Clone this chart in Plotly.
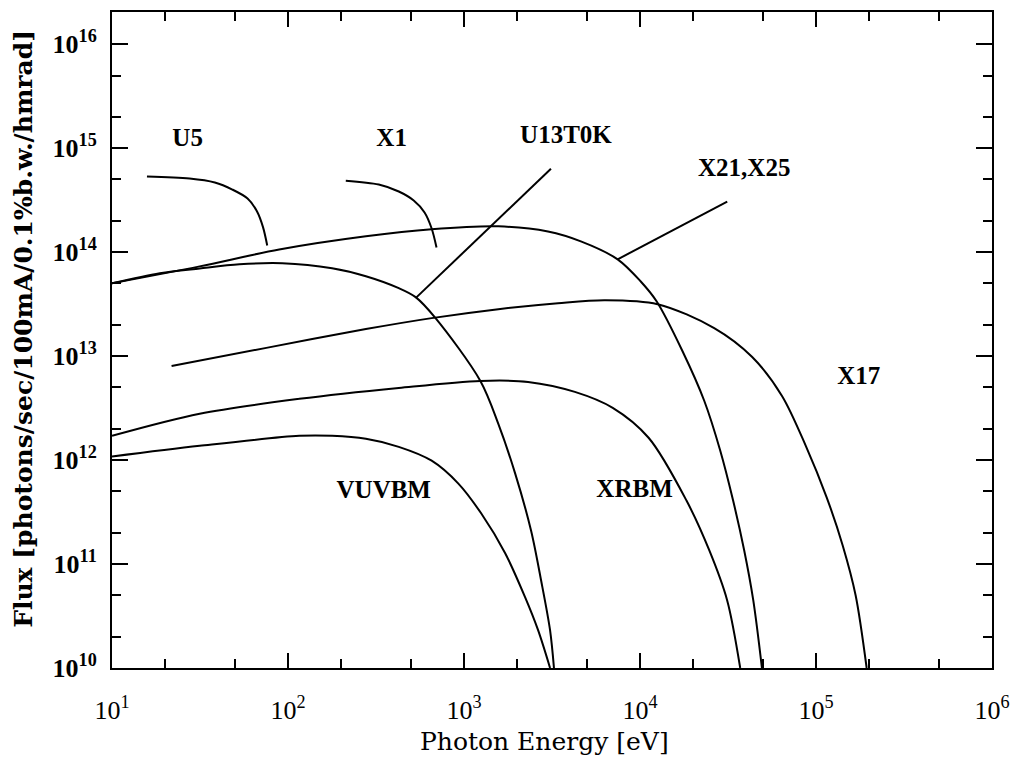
import plotly.graph_objects as go

# ---------------- data (photon energy in eV, flux in photons/sec/100mA/0.1%bw/hmrad) ----
u5_e = [15.8, 27.6, 38.4, 48.3, 58.9, 66.7, 72.1, 76.2]
u5_f = [5.33e14, 5.1e14, 4.67e14, 4.0e14, 3.28e14, 2.46e14, 1.74e14, 1.16e14]

x1_e = [213, 328, 426, 518, 597, 655, 698]
x1_f = [4.87e14, 4.47e14, 3.83e14, 3.14e14, 2.41e14, 1.69e14, 1.11e14]

x21_e = [10, 31.5, 89.1, 277, 655, 1567, 3000, 4613, 7464, 1.007e4, 1.242e4, 1.742e4,
         2.317e4, 2.858e4, 3.381e4, 3.91e4, 4.40e4, 4.93e4]
x21_f = [5.02e13, 7.3e13, 1.06e14, 1.42e14, 1.66e14, 1.77e14, 1.58e14, 1.27e14, 8.53e13,
         5.25e13, 3.37e13, 1.12e13, 3.72e12, 1.23e12, 4.08e11, 1.35e11, 4.49e10, 1.0e10]

u13_e = [10, 18.7, 31.5, 53.0, 92.7, 178, 277, 426, 531, 689, 1239, 1567, 1954,
         2404, 2741, 3083, 3245]
u13_f = [5.02e13, 6.27e13, 6.97e13, 7.64e13, 7.82e13, 7.0e13, 5.86e13, 4.5e13, 3.69e13,
         2.32e13, 5.77e12, 2.23e12, 7.41e11, 2.10e11, 6.98e10, 2.31e10, 1.0e10]

x17_e = [21.8, 75.3, 277, 655, 1567, 3420, 6310, 1.259e4, 2.64e4, 4.34e4, 6.41e4, 8.75e4,
         1.151e5, 1.418e5, 1.679e5, 1.94e5]
x17_f = [8.04e12, 1.2e13, 1.82e13, 2.32e13, 2.83e13, 3.23e13, 3.45e13, 3.16e13, 1.86e13,
         9.8e12, 4.14e12, 1.37e12, 4.36e11, 1.51e11, 5.01e10, 1.0e10]

xrbm_e = [10, 31.5, 116, 426, 1239, 2312, 4266, 7000, 1.119e4, 1.837e4, 2.477e4, 3.126e4,
          3.71e4]
xrbm_f = [1.71e12, 2.79e12, 3.88e12, 4.94e12, 5.77e12, 5.65e12, 4.53e12, 3.18e12, 1.64e12,
          4.08e11, 1.35e11, 4.49e10, 1.0e10]

vuv_e = [10, 31.5, 116, 178, 277, 426, 655, 929, 1254, 1714, 2223, 2636, 3083]
vuv_f = [1.08e12, 1.37e12, 1.71e12, 1.71e12, 1.60e12, 1.34e12, 9.86e11, 5.94e11, 3.06e11,
         1.27e11, 4.80e10, 2.31e10, 1.0e10]

# pointer lines from labels to curves
ptr_u13_e = [3119, 531]
ptr_u13_f = [6.35e14, 3.61e13]
ptr_x21_e = [3.13e4, 7464]
ptr_x21_f = [3.07e14, 8.53e13]

# curve labels
label_text = ["U5", "X1", "U13T0K", "X21,X25", "X17", "VUVBM", "XRBM"]
label_e = [26.9, 388, 3796, 3.91e4, 1.75e5, 350, 9311]
label_f = [1.21e15, 1.21e15, 1.29e15, 6.22e14, 6.17e12, 4.98e11, 5.09e11]

# axis ticks
x_major = [1e1, 1e2, 1e3, 1e4, 1e5, 1e6]
x_major_text = ["10<sup>1</sup>", "10<sup>2</sup>", "10<sup>3</sup>", "10<sup>4</sup>",
                "10<sup>5</sup>", "10<sup>6</sup>"]
x_minor = [20, 50, 200, 500, 2e3, 5e3, 2e4, 5e4, 2e5, 5e5]
y_major = [1e10, 1e11, 1e12, 1e13, 1e14, 1e15, 1e16]
y_major_text = ["<b>10<sup>10</sup></b>", "<b>10<sup>11</sup></b>", "<b>10<sup>12</sup></b>",
                "<b>10<sup>13</sup></b>", "<b>10<sup>14</sup></b>", "<b>10<sup>15</sup></b>",
                "<b>10<sup>16</sup></b>"]
y_minor = [2e10, 5e10, 2e11, 5e11, 2e12, 5e12, 2e13, 5e13, 2e14, 5e14, 2e15, 5e15]

x_title = "Photon Energy [eV]"
y_title = "Flux [photons/sec/100mA/0.1%b.w./hmrad]"

# ---------------- figure ----------------
fig = go.Figure()
line_style = dict(color="black", width=2, shape="spline", smoothing=0.9)
for ex, fx in [(u5_e, u5_f), (x1_e, x1_f), (x21_e, x21_f), (u13_e, u13_f),
               (x17_e, x17_f), (xrbm_e, xrbm_f), (vuv_e, vuv_f)]:
    fig.add_trace(go.Scatter(x=ex, y=fx, mode="lines", line=line_style,
                             showlegend=False, hoverinfo="skip"))
for ex, fx in [(ptr_u13_e, ptr_u13_f), (ptr_x21_e, ptr_x21_f)]:
    fig.add_trace(go.Scatter(x=ex, y=fx, mode="lines", line=dict(color="black", width=2),
                             showlegend=False, hoverinfo="skip"))

fig.add_trace(go.Scatter(x=label_e, y=label_f, mode="text", text=label_text,
                         textposition="middle center",
                         textfont=dict(family="Liberation Serif", size=25, color="black",
                                       weight="bold"),
                         showlegend=False, hoverinfo="skip"))

axis_common = dict(type="log", showline=True, linewidth=2, linecolor="black",
                   mirror="ticks", ticks="inside", tickwidth=2, tickcolor="black",
                   showgrid=False, zeroline=False)

fig.update_xaxes(**axis_common, range=[1, 6], ticklen=15,
                 tickmode="array", tickvals=x_major, ticktext=x_major_text,
                 tickfont=dict(family="Liberation Serif", size=26, color="black"),
                 ticklabelstandoff=18,
                 minor=dict(tickmode="array", tickvals=x_minor, ticks="inside",
                            ticklen=9, tickwidth=1.5, tickcolor="black"))
fig.update_yaxes(**axis_common, range=[10, 16.31], ticklen=16,
                 tickmode="array", tickvals=y_major, ticktext=y_major_text,
                 tickfont=dict(family="Liberation Serif", size=26, color="black"),
                 ticklabelstandoff=8,
                 minor=dict(tickmode="array", tickvals=y_minor, ticks="inside",
                            ticklen=9, tickwidth=1.5, tickcolor="black"))

fig.add_annotation(text=x_title, xref="paper", yref="paper", x=0.491, y=-0.1125,
                   xanchor="center", yanchor="middle", showarrow=False,
                   font=dict(family="DejaVu Serif", size=25, color="black"))
fig.add_annotation(text=y_title, xref="paper", yref="paper", x=-0.1, y=0.517,
                   xanchor="center", yanchor="middle", showarrow=False, textangle=-90,
                   font=dict(family="DejaVu Serif", size=25, color="black", weight="bold"))

fig.update_layout(width=1020, height=763, margin=dict(l=112, r=24, t=10, b=95),
                  paper_bgcolor="white", plot_bgcolor="white", showlegend=False)

fig.write_html("out.html", config={"displayModeBar": False},
               post_script="document.body.style.margin='0px';document.body.style.overflow='hidden';")
